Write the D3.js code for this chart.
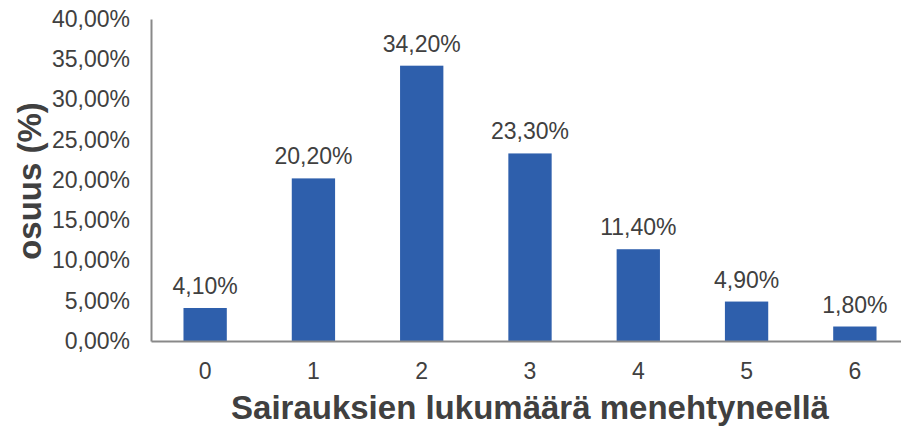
<!DOCTYPE html>
<html>
<head>
<meta charset="utf-8">
<script src="https://cdn.jsdelivr.net/npm/d3@7"></script>
<style>
  body { margin: 0; background: #fff; }
  text { font-family: "Liberation Sans", Arial, sans-serif; }
</style>
</head>
<body>
<svg id="chart" width="901" height="427"></svg>
<script>
var categories = ['0', '1', '2', '3', '4', '5', '6'];
var values = [4.1, 20.2, 34.2, 23.3, 11.4, 4.9, 1.8];
var yTicks = [0, 5, 10, 15, 20, 25, 30, 35, 40];

var fmt = function(v) { return v.toFixed(2).replace('.', ',') + '%'; };

var svg = d3.select('#chart');

var x = d3.scaleBand()
  .domain(categories)
  .range([151, 909])
  .paddingInner(0.6)
  .paddingOuter(0.3);

var y = d3.scaleLinear()
  .domain([0, 40])
  .range([341, 19]);

// bars
svg.append('g')
  .selectAll('rect')
  .data(values)
  .enter()
  .append('rect')
    .attr('x', function(d, i) { return x(categories[i]); })
    .attr('y', function(d) { return y(d); })
    .attr('width', x.bandwidth())
    .attr('height', function(d) { return y(0) - y(d); })
    .attr('fill', '#2E5FAC');

// value labels
svg.append('g')
  .selectAll('text')
  .data(values)
  .enter()
  .append('text')
    .attr('x', function(d, i) { return x(categories[i]) + x.bandwidth() / 2; })
    .attr('y', function(d) { return y(d) - 14; })
    .attr('text-anchor', 'middle')
    .attr('font-size', 23)
    .attr('fill', '#404040')
    .text(fmt);

// y axis
var axisY = d3.axisLeft(y)
  .tickValues(yTicks)
  .tickSize(0)
  .tickPadding(21)
  .tickFormat(fmt);

var gy = svg.append('g')
  .attr('transform', 'translate(151,0)')
  .call(axisY);
gy.select('.domain').attr('stroke', '#898989').attr('stroke-width', 2);
gy.selectAll('text').attr('font-size', 23).attr('fill', '#404040')
  .style('font-family', '"Liberation Sans", Arial, sans-serif');

// x axis
var axisX = d3.axisBottom(x)
  .tickSize(0)
  .tickPadding(22);

var gx = svg.append('g')
  .attr('transform', 'translate(0,341)')
  .call(axisX);
gx.select('.domain').attr('stroke', '#898989').attr('stroke-width', 2);
gx.selectAll('text').attr('font-size', 23).attr('fill', '#404040')
  .style('font-family', '"Liberation Sans", Arial, sans-serif');

// titles
svg.append('text')
  .attr('x', 530)
  .attr('y', 419)
  .attr('text-anchor', 'middle')
  .attr('font-size', 33)
  .attr('font-weight', 'bold')
  .attr('fill', '#404040')
  .text('Sairauksien lukumäärä menehtyneellä');

svg.append('text')
  .attr('transform', 'translate(41,181) rotate(-90)')
  .attr('text-anchor', 'middle')
  .attr('font-size', 33)
  .attr('font-weight', 'bold')
  .attr('fill', '#404040')
  .text('osuus (%)');
</script>
</body>
</html>
